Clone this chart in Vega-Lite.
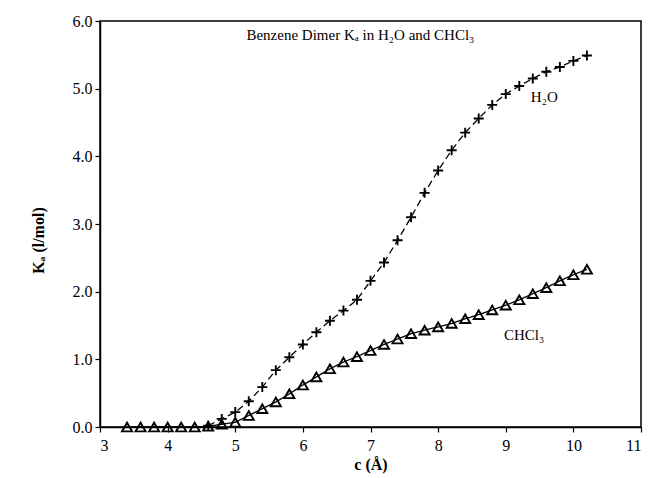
{
  "$schema": "https://vega.github.io/schema/vega-lite/v6.json",
  "autosize": "none",
  "width": 541,
  "height": 406,
  "padding": {"left": 100, "top": 21, "right": 7, "bottom": 51},
  "background": "white",
  "config": {
    "font": "Liberation Serif",
    "view": {"stroke": "black", "strokeWidth": 1.5},
    "axis": {"grid": false, "domainColor": "black", "tickColor": "black", "labelColor": "black", "titleColor": "black", "labelFont": "Liberation Serif", "titleFont": "Liberation Serif", "labelFontSize": 16, "titleFontSize": 16, "domainWidth": 1.5, "tickWidth": 1.2}
  },
  "datasets": {
    "series": [
      {"c": 3.4, "ka": 0.0, "solvent": "CHCl3"},
      {"c": 3.6, "ka": 0.0, "solvent": "CHCl3"},
      {"c": 3.8, "ka": 0.0, "solvent": "CHCl3"},
      {"c": 4.0, "ka": 0.0, "solvent": "CHCl3"},
      {"c": 4.2, "ka": 0.0, "solvent": "CHCl3"},
      {"c": 4.4, "ka": 0.0, "solvent": "CHCl3"},
      {"c": 4.6, "ka": 0.01, "solvent": "CHCl3"},
      {"c": 4.8, "ka": 0.04, "solvent": "CHCl3"},
      {"c": 5.0, "ka": 0.07, "solvent": "CHCl3"},
      {"c": 5.2, "ka": 0.17, "solvent": "CHCl3"},
      {"c": 5.4, "ka": 0.27, "solvent": "CHCl3"},
      {"c": 5.6, "ka": 0.37, "solvent": "CHCl3"},
      {"c": 5.8, "ka": 0.49, "solvent": "CHCl3"},
      {"c": 6.0, "ka": 0.62, "solvent": "CHCl3"},
      {"c": 6.2, "ka": 0.74, "solvent": "CHCl3"},
      {"c": 6.4, "ka": 0.86, "solvent": "CHCl3"},
      {"c": 6.6, "ka": 0.96, "solvent": "CHCl3"},
      {"c": 6.8, "ka": 1.04, "solvent": "CHCl3"},
      {"c": 7.0, "ka": 1.13, "solvent": "CHCl3"},
      {"c": 7.2, "ka": 1.22, "solvent": "CHCl3"},
      {"c": 7.4, "ka": 1.30, "solvent": "CHCl3"},
      {"c": 7.6, "ka": 1.38, "solvent": "CHCl3"},
      {"c": 7.8, "ka": 1.43, "solvent": "CHCl3"},
      {"c": 8.0, "ka": 1.48, "solvent": "CHCl3"},
      {"c": 8.2, "ka": 1.53, "solvent": "CHCl3"},
      {"c": 8.4, "ka": 1.60, "solvent": "CHCl3"},
      {"c": 8.6, "ka": 1.66, "solvent": "CHCl3"},
      {"c": 8.8, "ka": 1.73, "solvent": "CHCl3"},
      {"c": 9.0, "ka": 1.80, "solvent": "CHCl3"},
      {"c": 9.2, "ka": 1.88, "solvent": "CHCl3"},
      {"c": 9.4, "ka": 1.97, "solvent": "CHCl3"},
      {"c": 9.6, "ka": 2.06, "solvent": "CHCl3"},
      {"c": 9.8, "ka": 2.16, "solvent": "CHCl3"},
      {"c": 10.0, "ka": 2.25, "solvent": "CHCl3"},
      {"c": 10.2, "ka": 2.33, "solvent": "CHCl3"},
      {"c": 4.6, "ka": 0.02, "solvent": "H2O"},
      {"c": 4.8, "ka": 0.12, "solvent": "H2O"},
      {"c": 5.0, "ka": 0.22, "solvent": "H2O"},
      {"c": 5.2, "ka": 0.38, "solvent": "H2O"},
      {"c": 5.4, "ka": 0.59, "solvent": "H2O"},
      {"c": 5.6, "ka": 0.84, "solvent": "H2O"},
      {"c": 5.8, "ka": 1.03, "solvent": "H2O"},
      {"c": 6.0, "ka": 1.22, "solvent": "H2O"},
      {"c": 6.2, "ka": 1.40, "solvent": "H2O"},
      {"c": 6.4, "ka": 1.57, "solvent": "H2O"},
      {"c": 6.6, "ka": 1.72, "solvent": "H2O"},
      {"c": 6.8, "ka": 1.88, "solvent": "H2O"},
      {"c": 7.0, "ka": 2.16, "solvent": "H2O"},
      {"c": 7.2, "ka": 2.43, "solvent": "H2O"},
      {"c": 7.4, "ka": 2.76, "solvent": "H2O"},
      {"c": 7.6, "ka": 3.10, "solvent": "H2O"},
      {"c": 7.8, "ka": 3.46, "solvent": "H2O"},
      {"c": 8.0, "ka": 3.79, "solvent": "H2O"},
      {"c": 8.2, "ka": 4.09, "solvent": "H2O"},
      {"c": 8.4, "ka": 4.35, "solvent": "H2O"},
      {"c": 8.6, "ka": 4.56, "solvent": "H2O"},
      {"c": 8.8, "ka": 4.76, "solvent": "H2O"},
      {"c": 9.0, "ka": 4.92, "solvent": "H2O"},
      {"c": 9.2, "ka": 5.04, "solvent": "H2O"},
      {"c": 9.4, "ka": 5.15, "solvent": "H2O"},
      {"c": 9.6, "ka": 5.25, "solvent": "H2O"},
      {"c": 9.8, "ka": 5.32, "solvent": "H2O"},
      {"c": 10.0, "ka": 5.41, "solvent": "H2O"},
      {"c": 10.2, "ka": 5.49, "solvent": "H2O"}
    ],
    "labels": [
      {"c": 6.85, "ka": 5.79, "text": "Benzene Dimer Kₐ in H₂O and CHCl₃"},
      {"c": 9.57, "ka": 4.87, "text": "H₂O"},
      {"c": 9.27, "ka": 1.36, "text": "CHCl₃"}
    ]
  },
  "encoding": {
    "x": {"field": "c", "type": "quantitative", "scale": {"domain": [3, 11], "nice": false, "zero": false},
          "axis": {"title": "c (Å)", "titleFontWeight": "bold", "values": [3,4,5,6,7,8,9,10,11], "format": "d", "tickSize": 5, "labelPadding": 5, "titlePadding": 3}},
    "y": {"field": "ka", "type": "quantitative", "scale": {"domain": [0, 6], "nice": false},
          "axis": {"title": "Kₐ (l/mol)", "titleFontWeight": "bold", "values": [0,1,2,3,4,5,6], "format": ".1f", "tickSize": 5, "labelPadding": 3, "titlePadding": 26, "titleY": 219}}
  },
  "layer": [
    {
      "data": {"name": "series"},
      "mark": {"type": "line", "color": "black", "strokeWidth": 1.3},
      "encoding": {
        "detail": {"field": "solvent"},
        "strokeDash": {"field": "solvent", "type": "nominal", "scale": {"domain": ["H2O", "CHCl3"], "range": [[7, 4], [1, 0]]}, "legend": null}
      }
    },
    {
      "data": {"name": "series"},
      "mark": {"type": "point", "filled": false, "color": "black", "strokeWidth": 1.9, "size": 100, "opacity": 1},
      "encoding": {
        "shape": {"field": "solvent", "type": "nominal", "scale": {"domain": ["H2O", "CHCl3"], "range": ["M-1,0H1M0,-1V1", "triangle-up"]}, "legend": null}
      }
    },
    {
      "data": {"name": "labels"},
      "mark": {"type": "text", "font": "Liberation Serif", "fontSize": 15, "color": "black", "align": "center", "baseline": "middle"},
      "encoding": {"text": {"field": "text"}}
    }
  ]
}
